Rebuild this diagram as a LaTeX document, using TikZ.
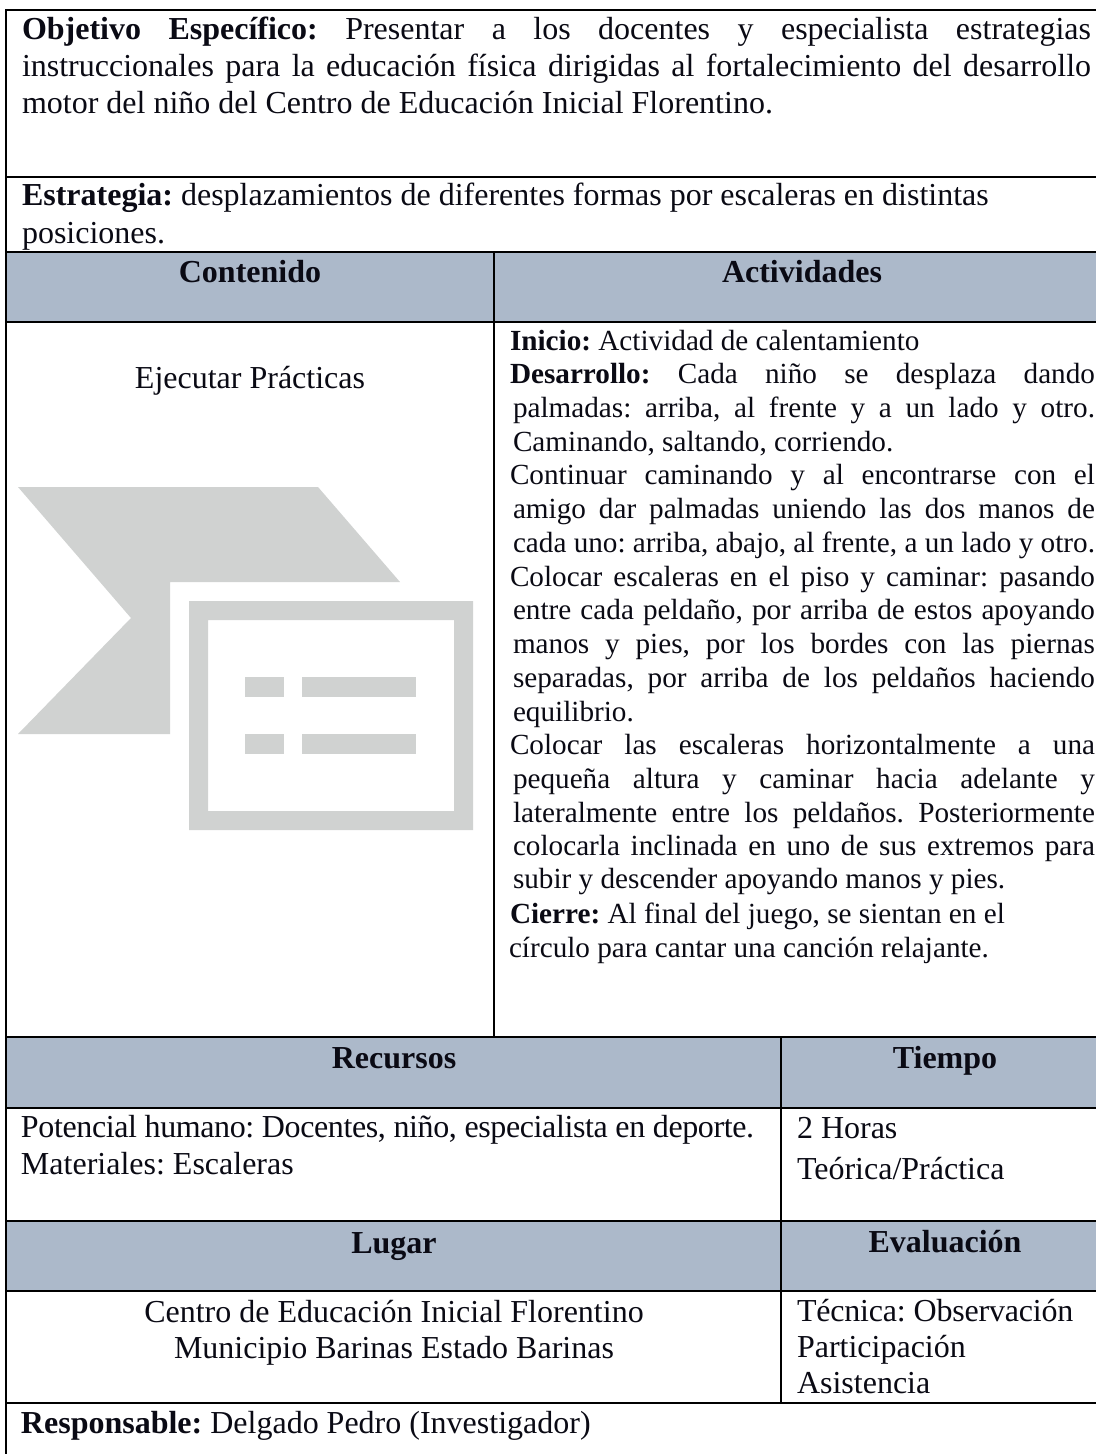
\documentclass[tikz,border=0pt]{standalone}
\usepackage{fontspec}
\setmainfont{Liberation Serif}
\frenchspacing
\definecolor{headfill}{HTML}{ACB9CA}
\definecolor{icongray}{HTML}{D0D2D1}
\definecolor{inkblack}{HTML}{0A0A14}
\tikzset{
  txt/.style={inner sep=0pt,outer sep=0pt,anchor=base west,text=inkblack,font=\fontsize{24}{28}\selectfont},
  acttxt/.style={txt,font=\fontsize{21.9}{26}\selectfont},
  ctr/.style={inner sep=0pt,outer sep=0pt,anchor=base,text=inkblack,font=\fontsize{24}{28}\selectfont},
  rule/.style={line width=1.6pt,draw=black},
  headband/.style={fill=headfill,draw=none},
  iconshape/.style={fill=icongray,draw=none,even odd rule}
}
\newlength{\unitpx}\setlength{\unitpx}{0.75pt}
\newcommand{\jl}[5]{\node[txt] (#1) at (#2,#3) {\hbox to #4\unitpx{#5}};}
\newcommand{\tl}[4]{\node[txt] (#1) at (#2,#3) {#4};}
\newcommand{\ja}[5]{\node[acttxt] (#1) at (#2,#3) {\hbox to #4\unitpx{#5}};}
\newcommand{\ta}[4]{\node[acttxt] (#1) at (#2,#3) {#4};}
\newcommand{\cl}[4]{\node[ctr] (#1) at (#2,#3) {#4};}
\begin{document}
\begin{tikzpicture}[x=0.75pt,y=-0.75pt]
\useasboundingbox (0,0) rectangle (1096,1454);
\fill[white] (0,0) rectangle (1096,1454);
% bands
\fill[headband] (6,252) rectangle (1096,322);
\fill[headband] (6,1037) rectangle (1096,1108);
\fill[headband] (6,1221) rectangle (1096,1291);
% icon
\fill[iconshape] (18,487) -- (318,487) -- (400,582) -- (170,582) -- (170,734) -- (18,734) -- (131,618) -- cycle;
\fill[iconshape] (189,601) rectangle (473,830) (208,620) rectangle (454,811);
\fill[iconshape] (245,677) rectangle (284,697);
\fill[iconshape] (302,677) rectangle (416,697);
\fill[iconshape] (245,734) rectangle (284,754);
\fill[iconshape] (302,734) rectangle (416,754);
% rules
\foreach \yy in {10,177,252,322,1037,1108,1221,1291,1403}
  \draw[rule] (6,\yy) -- (1096,\yy);
\draw[rule] (6,9) -- (6,1454);
\draw[rule] (494,252) -- (494,1037);
\draw[rule] (781,1037) -- (781,1403);
% objective
\jl{o1}{22}{39}{1069}{\textbf{Objetivo Específico:} Presentar a los docentes y especialista estrategias}
\jl{o2}{22}{76}{1069}{instruccionales para la educación física dirigidas al fortalecimiento del desarrollo}
\tl{o3}{22}{113}{motor del niño del Centro de Educación Inicial Florentino.}
\tl{e1}{22}{205}{\textbf{Estrategia:} desplazamientos de diferentes formas por escaleras en distintas}
\tl{e2}{22}{243}{posiciones.}
% heads
\cl{h1}{250}{282}{\textbf{Contenido}}
\cl{h2}{802}{282}{\textbf{Actividades}}
\cl{c1}{250}{388}{Ejecutar Prácticas}
% activities
\ta{a1}{510}{350}{\textbf{Inicio:} Actividad de calentamiento}
\ja{a2}{510}{383}{585}{\textbf{Desarrollo:} Cada niño se desplaza dando}
\ja{a3}{513}{417}{582}{palmadas: arriba, al frente y a un lado y otro.}
\ta{a4}{513}{451}{Caminando, saltando, corriendo.}
\ja{a5}{510}{484}{585}{Continuar caminando y al encontrarse con el}
\ja{a6}{513}{518}{582}{amigo dar palmadas uniendo las dos manos de}
\ja{a7}{513}{552}{582}{cada uno: arriba, abajo, al frente, a un lado y otro.}
\ja{a8}{510}{586}{585}{Colocar escaleras en el piso y caminar: pasando}
\ja{a9}{513}{619}{582}{entre cada peldaño, por arriba de estos apoyando}
\ja{a10}{513}{653}{582}{manos y pies, por los bordes con las piernas}
\ja{a11}{513}{687}{582}{separadas, por arriba de los peldaños haciendo}
\ta{a12}{513}{721}{equilibrio.}
\ja{a13}{510}{754}{585}{Colocar las escaleras horizontalmente a una}
\ja{a14}{513}{788}{582}{pequeña altura y caminar hacia adelante y}
\ja{a15}{513}{822}{582}{lateralmente entre los peldaños. Posteriormente}
\ja{a16}{513}{855}{582}{colocarla inclinada en uno de sus extremos para}
\ta{a17}{513}{888}{subir y descender apoyando manos y pies.}
\ta{a18}{510}{923}{\textbf{Cierre:} Al final del juego, se sientan en el}
\ta{a19}{509}{957}{círculo para cantar una canción relajante.}
% resources
\cl{h3}{394}{1068}{\textbf{Recursos}}
\cl{h4}{945}{1068}{\textbf{Tiempo}}
\tl{r1}{21}{1137}{\addfontfeature{LetterSpace=-1.2}Potencial humano: Docentes, niño, especialista en deporte.}
\tl{r2}{21}{1174}{Materiales: Escaleras}
\tl{t1}{797}{1138}{2 Horas}
\tl{t2}{797}{1179}{Teórica/Práctica}
% place
\cl{h5}{394}{1253}{\textbf{Lugar}}
\cl{h6}{945}{1252}{\textbf{Evaluación}}
\cl{l1}{394}{1322}{Centro de Educación Inicial Florentino}
\cl{l2}{394}{1358}{Municipio Barinas Estado Barinas}
\tl{v1}{797}{1321}{\addfontfeature{LetterSpace=-0.6}Técnica: Observación}
\tl{v2}{797}{1357}{Participación}
\tl{v3}{797}{1393}{Asistencia}
\tl{p1}{21}{1433}{\textbf{Responsable:} Delgado Pedro (Investigador)}
\end{tikzpicture}
\end{document}
